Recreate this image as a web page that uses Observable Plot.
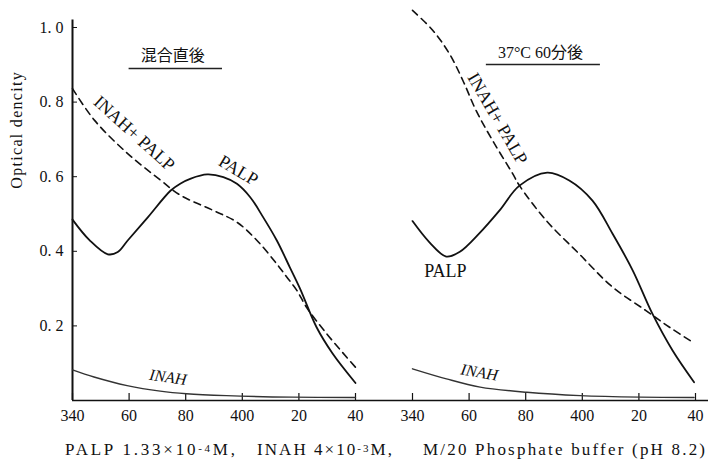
<!DOCTYPE html>
<html><head><meta charset="utf-8">
<script src="https://cdn.jsdelivr.net/npm/d3@7"></script>
<script src="https://cdn.jsdelivr.net/npm/@observablehq/plot@0.6"></script>
<style>
body{margin:0;background:#fff;}
#cap{display:block;}
#cap text{font-family:"Liberation Serif",serif;font-size:17px;fill:#111;}
</style></head><body><div id="chart"></div>
<svg id="cap" width="709" height="31">
  <text x="65" y="25" textLength="170" lengthAdjust="spacing">PALP 1.33×10<tspan font-size="11" dy="-3">-4</tspan><tspan dy="3">M,</tspan></text>
  <text x="257" y="25" textLength="135" lengthAdjust="spacing">INAH 4×10<tspan font-size="11" dy="-3">-3</tspan><tspan dy="3">M,</tspan></text>
  <text x="423" y="25" textLength="282" lengthAdjust="spacing">M/20 Phosphate buffer (pH 8.2)</text>
</svg>
<script>
const panels = ["混合直後", "37°C 60分後"];
const xTicks = [340, 360, 380, 400, 420, 440];
const xTickLabels = ["340", "60", "80", "400", "20", "40"];
const yTicks = [0.2, 0.4, 0.6, 0.8, 1.0];

// Left panel (混合直後)
const leftPalpX = [340, 346, 352.5, 356, 359.5, 366.6, 374.7, 378.2, 381.8, 387.6, 393.3, 398.1, 402.8, 407.4, 412.2, 416.8, 420.4, 426.2, 431.9, 440];
const leftPalpY = [0.485, 0.43, 0.392, 0.398, 0.429, 0.491, 0.563, 0.582, 0.595, 0.606, 0.599, 0.581, 0.545, 0.491, 0.429, 0.357, 0.3, 0.197, 0.126, 0.047];
const leftMixX = [340, 347.8, 359.5, 371.2, 378.2, 389.9, 398.1, 405.2, 412.2, 415.7, 419.2, 422.7, 429.7, 440];
const leftMixY = [0.836, 0.751, 0.662, 0.59, 0.55, 0.509, 0.478, 0.429, 0.366, 0.331, 0.296, 0.25, 0.18, 0.089];
const leftInahX = [340, 347.6, 359.3, 371, 380.3, 394.4, 417.7, 440];
const leftInahY = [0.082, 0.063, 0.04, 0.025, 0.018, 0.013, 0.009, 0.008];

// Right panel (37°C 60分後)
const rightPalpX = [340, 346, 351.9, 356.6, 363.6, 370.7, 377.8, 387.6, 395.4, 403.6, 410.7, 417.8, 424.8, 431.9, 439.5];
const rightPalpY = [0.481, 0.424, 0.386, 0.398, 0.448, 0.509, 0.576, 0.611, 0.59, 0.536, 0.447, 0.349, 0.232, 0.134, 0.049];
const rightMixX = [340, 347.2, 353.1, 357.8, 362.5, 368.3, 375.4, 377.8, 387.2, 398.9, 410.7, 422.5, 430.7, 439.5];
const rightMixY = [1.046, 0.992, 0.929, 0.858, 0.777, 0.697, 0.608, 0.576, 0.483, 0.393, 0.304, 0.241, 0.197, 0.154];
const rightInahX = [340, 352, 363.9, 380.4, 399.3, 420.5, 439.5];
const rightInahY = [0.085, 0.058, 0.036, 0.022, 0.013, 0.009, 0.008];

// Curve labels
const labelPanel = [0, 0, 0, 1, 1, 1];
const labelText = ["INAH+ PALP", "PALP", "INAH", "INAH+ PALP", "PALP", "INAH"];
const labelX = [361.8, 398.6, 373.7, 370, 351.6, 363.6];
const labelY = [0.716, 0.617, 0.062, 0.756, 0.346, 0.075];
const labelRotate = [42, 31, 8, 60, 0, 10];
const labelItalic = [false, false, true, false, false, true];

// Panel titles and their underlines
const titleX = [375.4, 385.2];
const titleY = [0.925, 0.933];
const underlineY = [0.89, 0.901];
const underlineX1 = [360, 366.1];
const underlineX2 = [393, 406.4];

function rows(panel, series, xs, ys) {
  return xs.map((x, i) => ({panel, series, x, y: ys[i]}));
}
const palp = [...rows(panels[0], "PALP", leftPalpX, leftPalpY), ...rows(panels[1], "PALP", rightPalpX, rightPalpY)];
const mix = [...rows(panels[0], "MIX", leftMixX, leftMixY), ...rows(panels[1], "MIX", rightMixX, rightMixY)];
const inah = [...rows(panels[0], "INAH", leftInahX, leftInahY), ...rows(panels[1], "INAH", rightInahX, rightInahY)];
const labels = labelText.map((t, i) => ({panel: panels[labelPanel[i]], t, x: labelX[i], y: labelY[i], r: labelRotate[i], it: labelItalic[i]}));
const titles = panels.map((p, i) => ({panel: p, x: titleX[i], y: titleY[i], uy: underlineY[i], x1: underlineX1[i], x2: underlineX2[i]}));

const serif = "Liberation Serif, DejaVu Serif, serif";
const cjk = "Liberation Serif, Noto Sans CJK JP, serif";

const chart = Plot.plot({
  width: 709,
  height: 430,
  marginLeft: 71,
  marginRight: 13,
  marginTop: 27,
  marginBottom: 30,
  style: {fontFamily: serif, color: "#111", background: "#fff"},
  fx: {domain: panels, paddingInner: 0.167, paddingOuter: 0, axis: null, label: null},
  x: {domain: [340, 440]},
  y: {domain: [0, 1]},
  marks: [
    Plot.ruleY([0], {fx: () => panels[0], insetRight: -57, stroke: "#111", strokeWidth: 1.7}),
    Plot.ruleY([0], {fx: () => panels[1], insetRight: -13, stroke: "#111", strokeWidth: 1.7}),
    Plot.ruleX([340], {fx: () => panels[0], y1: 0, y2: 1.02, stroke: "#111", strokeWidth: 2}),
    Plot.tickX(xTicks, {x: d => d, insetTop: 366, stroke: "#111", strokeWidth: 1.2}),
    Plot.tickY(yTicks, {y: d => d, fx: () => panels[0], insetRight: 278, stroke: "#111", strokeWidth: 1}),
    Plot.axisX({ticks: xTicks, tickSize: 0, tickPadding: 9, tickFormat: d => xTickLabels[xTicks.indexOf(d)], label: null, fontSize: 16, fontFamily: serif}),
    Plot.axisY({ticks: yTicks, tickSize: 0, tickPadding: 9, tickFormat: d => d.toFixed(1).replace(".", ". "), label: null, fontSize: 16, fontFamily: serif}),
    Plot.text(["Optical dencity"], {fx: () => panels[0], frameAnchor: "left", y: 0.568, dx: -56, rotate: -90, fontSize: 16, fontFamily: serif}),
    Plot.line(inah, {x: "x", y: "y", fx: "panel", curve: "catmull-rom", stroke: "#333", strokeWidth: 1.4}),
    Plot.line(mix, {x: "x", y: "y", fx: "panel", curve: "catmull-rom", stroke: "#111", strokeWidth: 1.6, strokeDasharray: "7,5"}),
    Plot.line(palp, {x: "x", y: "y", fx: "panel", curve: "catmull-rom", stroke: "#111", strokeWidth: 1.8}),
    Plot.text(labels.filter(d => !d.it), {x: "x", y: "y", fx: "panel", text: "t", rotate: "r", fontSize: 18, fontFamily: serif, fill: "#111"}),
    Plot.text(labels.filter(d => d.it), {x: "x", y: "y", fx: "panel", text: "t", rotate: "r", fontSize: 16, fontStyle: "italic", fontFamily: serif, fill: "#111"}),
    Plot.text(titles, {x: "x", y: "y", fx: "panel", text: "panel", fontSize: 16, fontFamily: cjk, fill: "#111"}),
    Plot.ruleY(titles, {y: "uy", x1: "x1", x2: "x2", fx: "panel", stroke: "#222", strokeWidth: 1.5})
  ]
});
d3.select(chart).selectAll("text").filter(function() { return this.textContent === "Optical dencity"; }).attr("letter-spacing", 1.3);
document.getElementById("chart").appendChild(chart);
</script>
</body></html>
